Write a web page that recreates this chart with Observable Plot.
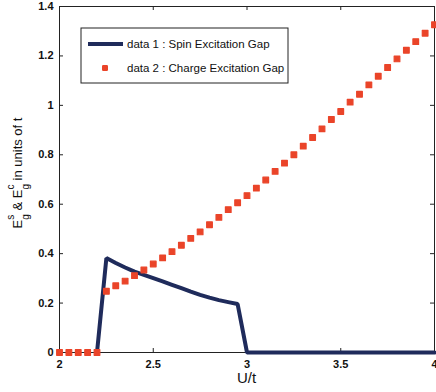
<!DOCTYPE html>
<html><head><meta charset="utf-8">
<script src="https://cdn.jsdelivr.net/npm/d3@7"></script>
<script src="https://cdn.jsdelivr.net/npm/@observablehq/plot@0.6"></script>
<style>body{margin:0;background:#fff;overflow:hidden} #chart svg{display:block}</style>
</head><body><div id="chart"></div>
<script>
const U = [2.0, 2.05, 2.1, 2.15, 2.2, 2.25, 2.3, 2.35, 2.4, 2.45, 2.5, 2.55, 2.6, 2.65, 2.7, 2.75, 2.8, 2.85, 2.9, 2.95,
           3.0, 3.05, 3.1, 3.15, 3.2, 3.25, 3.3, 3.35, 3.4, 3.45, 3.5, 3.55, 3.6, 3.65, 3.7, 3.75, 3.8, 3.85, 3.9, 3.95, 4.0];
const spinGap = [null, null, null, null, 0, 0.382, 0.362, 0.344, 0.327, 0.314, 0.301, 0.288, 0.274, 0.260, 0.246, 0.233, 0.222, 0.212, 0.204, 0.196,
                 0, 0, 0, 0, 0, 0, 0, 0, 0, 0, 0, 0, 0, 0, 0, 0, 0, 0, 0, 0, 0];
const chargeGap = [0, 0, 0, 0, 0, 0.248, 0.270, 0.289, 0.311, 0.334, 0.358, 0.383, 0.408, 0.434, 0.462, 0.488, 0.517, 0.547, 0.578, 0.606,
                   0.635, 0.665, 0.698, 0.733, 0.766, 0.800, 0.835, 0.870, 0.905, 0.943, 0.975, 1.013, 1.045, 1.083, 1.118, 1.153, 1.188, 1.223, 1.258, 1.292, 1.326];
const xTicks = [2, 2.5, 3, 3.5, 4];
const yTicks = [0, 0.2, 0.4, 0.6, 0.8, 1, 1.2, 1.4];
const seriesNames = ["data 1 : Spin Excitation Gap", "data 2 : Charge Excitation Gap"];
const xLabel = "U/t";

const rows = U.map((u, i) => ({u, spin: spinGap[i], charge: chargeGap[i]}));
const W = 436, H = 392, mL = 59, mR = 2, mT = 6, mB = 40;
const innerW = W - mL - mR, innerH = H - mT - mB;
const navy = "#1f2b5b", red = "#ea4429", ink = "#222";
const font = "'Liberation Sans', Arial, sans-serif";

const chart = Plot.plot({
  width: W, height: H, marginLeft: mL, marginRight: mR, marginTop: mT, marginBottom: mB,
  style: {fontFamily: font, fontSize: "11px", fontWeight: "bold", color: "#111", background: "#fff", overflow: "visible"},
  x: {domain: [2, 4], ticks: xTicks, tickFormat: d => String(d), tickSize: 0, tickPadding: 8, label: null},
  y: {domain: [0, 1.4], ticks: yTicks, tickFormat: d => String(d), tickSize: 0, tickPadding: 6, label: null},
  marks: [
    Plot.frame({stroke: ink}),
    Plot.tickX(xTicks, {x: d => d, insetTop: innerH - 4, stroke: ink}),
    Plot.tickX(xTicks, {x: d => d, insetBottom: innerH - 4, stroke: ink}),
    Plot.tickY(yTicks, {y: d => d, insetRight: innerW - 4, stroke: ink}),
    Plot.tickY(yTicks, {y: d => d, insetLeft: innerW - 4, stroke: ink}),
    Plot.line(rows.filter(d => d.spin != null), {x: "u", y: "spin", stroke: navy, strokeWidth: 4, strokeLinejoin: "miter"}),
    Plot.dot(rows, {x: "u", y: "charge", symbol: "square", r: 3.2, fill: red, stroke: red, strokeWidth: 1.2, strokeLinejoin: "round"})
  ]
});
document.getElementById("chart").append(chart);

const svg = d3.select(chart);
// legend
const lg = svg.append("g").attr("font-family", font).attr("font-size", 11.5).attr("font-weight", "normal")
  .attr("fill", "#111").attr("text-anchor", "start");
lg.append("rect").attr("x", 81).attr("y", 28).attr("width", 207).attr("height", 55).attr("fill", "#fff").attr("stroke", ink);
lg.append("line").attr("x1", 88).attr("x2", 123).attr("y1", 44).attr("y2", 44).attr("stroke", navy).attr("stroke-width", 4);
lg.append("rect").attr("x", 102).attr("y", 65).attr("width", 6).attr("height", 6).attr("rx", 1.2).attr("fill", red);
lg.append("text").attr("x", 127).attr("y", 44).attr("dy", "0.35em").attr("text-anchor", "start").text(seriesNames[0]);
lg.append("text").attr("x", 127).attr("y", 68).attr("dy", "0.35em").attr("text-anchor", "start").text(seriesNames[1]);

// x label
svg.append("text").attr("x", mL + innerW / 2).attr("y", 383).attr("text-anchor", "middle")
  .attr("font-family", font).attr("font-size", 15).attr("font-weight", "normal").attr("fill", "#111").text(xLabel);

// y label with sub/superscripts
const t = svg.append("text").attr("transform", "translate(22,173) rotate(-90)").attr("text-anchor", "middle")
  .attr("font-family", font).attr("font-size", 13).attr("font-weight", "normal").attr("fill", "#111");
t.append("tspan").text("E");
t.append("tspan").attr("font-size", 10).attr("dy", -8).text("s");
t.append("tspan").attr("font-size", 10).attr("dx", -5).attr("dy", 15).text("g");
t.append("tspan").attr("dy", -7).text(" & E");
t.append("tspan").attr("font-size", 10).attr("dy", -8).text("c");
t.append("tspan").attr("font-size", 10).attr("dx", -5).attr("dy", 15).text("g");
t.append("tspan").attr("dy", -7).text(" in units of t");
</script>
</body></html>
